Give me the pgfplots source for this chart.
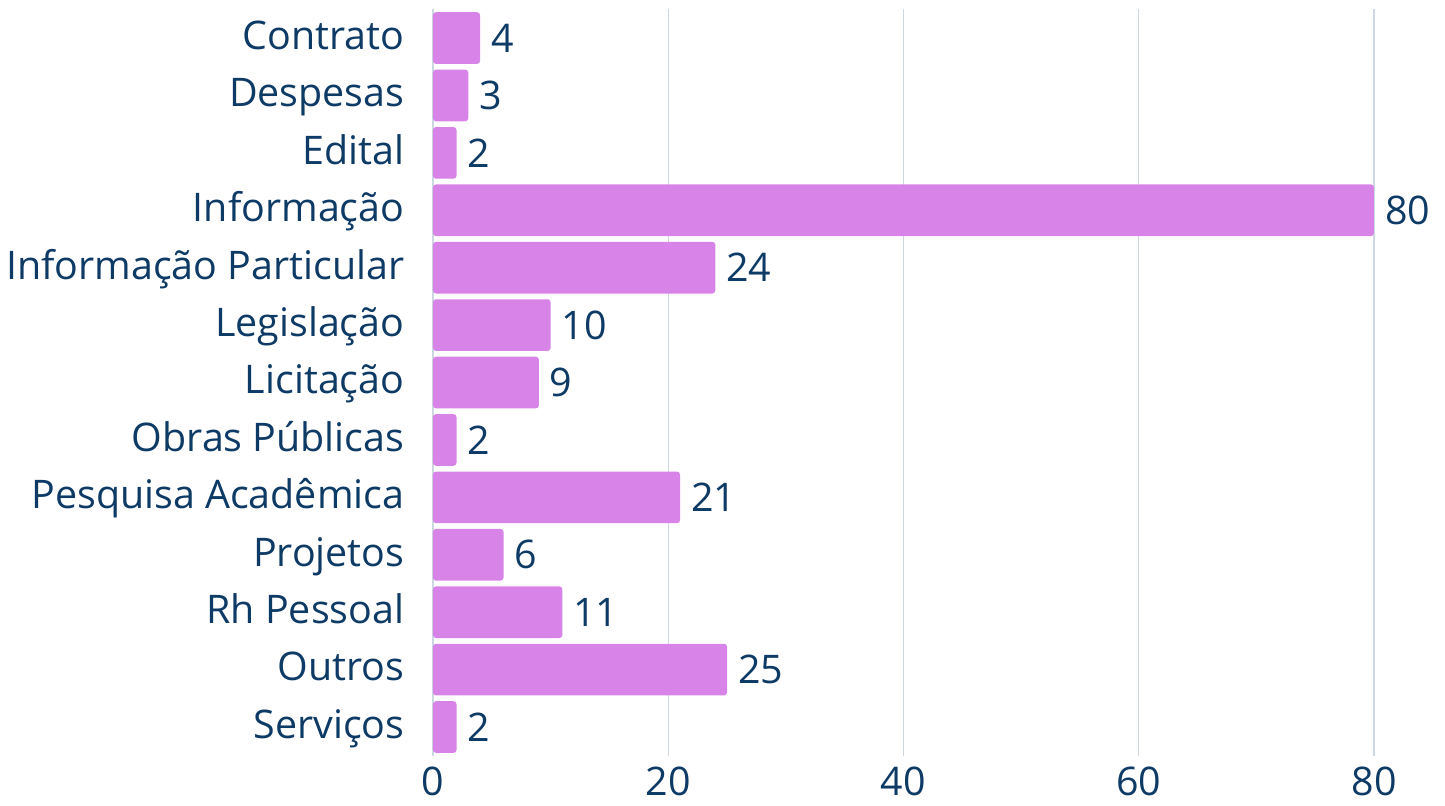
\documentclass[border=0pt]{standalone}
\usepackage{pgfplots}
\pgfplotsset{compat=1.18}
\usepackage{fontspec}
\setmainfont{Open Sans}
\definecolor{barc}{HTML}{D883E8}
\definecolor{txt}{HTML}{0E3A66}
\definecolor{gridc}{HTML}{CDD7E1}
\begin{document}
\begin{tikzpicture}
\useasboundingbox (-216.5pt,-24.65pt) rectangle (506pt,377.85pt);
\begin{axis}[
  at={(0,0)}, anchor=south west,
  scale only axis, width=470.5pt, height=373.2pt,
  xmin=0, xmax=80, ymin=-0.5, ymax=12.5,
  y dir=reverse,
  xbar, bar width=0.9, bar shift=0pt,
  axis line style={draw=none},
  tick style={draw=none},
  xtick={0,20,40,60,80},
  ytick={0,...,12},
  yticklabels={Contrato,Despesas,Edital,Informação,Informação Particular,Legislação,Licitação,Obras Públicas,Pesquisa Acadêmica,Projetos,Rh Pessoal,Outros,Serviços},
  xmajorgrids, grid style={gridc, line width=0.6pt},
  ticklabel style={font=\fontsize{19.7}{22}\selectfont, text=txt},
  /pgf/number format/assume math mode=true,
  yticklabel style={anchor=base east, xshift=-6.5pt, yshift=-5.7pt},
  xticklabel style={yshift=-2pt},
  nodes near coords,
  nodes near coords style={font=\fontsize{19.7}{22}\selectfont, text=txt, xshift=2pt},
  clip=false,
]
\addplot[fill=barc, draw=none, rounded corners=1.5pt] coordinates {
(4,0) (3,1) (2,2) (80,3) (24,4) (10,5) (9,6) (2,7) (21,8) (6,9) (11,10) (25,11) (2,12)
};
\end{axis}
\end{tikzpicture}
\end{document}
